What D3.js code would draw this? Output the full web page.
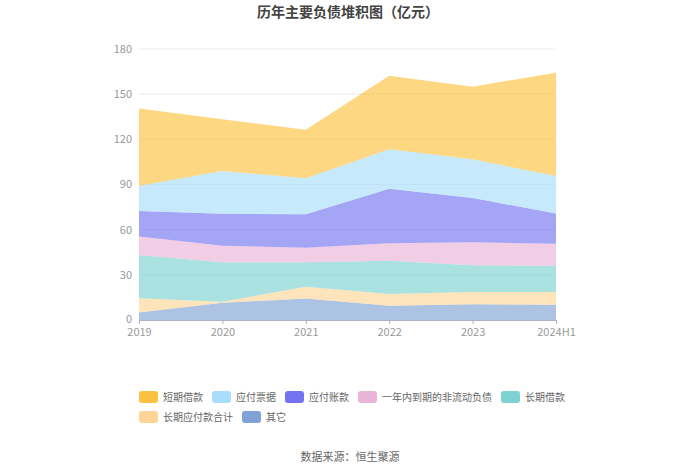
<!DOCTYPE html>
<html><head><meta charset="utf-8">
<script src="https://cdn.jsdelivr.net/npm/d3@7"></script>
<style>body{margin:0;background:#fff;}svg{display:block;font-family:"Noto Sans CJK SC","Noto Sans",sans-serif;}</style>
</head><body><svg id="c" width="700" height="474"></svg>
<script>
const categories = ["2019","2020","2021","2022","2023","2024H1"];
const seriesNames = ["短期借款","应付票据","应付账款","一年内到期的非流动负债","长期借款","长期应付款合计","其它"];
const shortLoans   = [51.2, 34.3, 32.3, 48.9, 48.3, 68.7];
const notesPayable = [16.8, 28.4, 23.9, 26.2, 25.7, 24.8];
const accountsPay  = [17.0, 21.2, 22.2, 36.3, 29.4, 20.1];
const currentNonC  = [12.2, 11.1, 9.7, 11.5, 15.3, 14.6];
const longLoans    = [28.8, 26.1, 16.2, 22.1, 17.7, 17.5];
const longPayables = [9.5, 0.7, 7.9, 7.8, 8.2, 8.4];
const others       = [4.9, 11.5, 14.2, 9.5, 10.4, 10.2];
const yTicks = [0,30,60,90,120,150,180];
const colors = ["#fcc13e","#a8defa","#7474f0","#eab4d8","#7dd3d3","#fed597","#7fa3d6"];

const seriesValues = [shortLoans, notesPayable, accountsPay, currentNonC, longLoans, longPayables, others];
const table = categories.map((c,i)=>{const o={cat:c};seriesNames.forEach((n,k)=>o[n]=seriesValues[k][i]);return o;});
const stackOrder = seriesNames.slice().reverse();
const stacked = d3.stack().keys(stackOrder)(table);

const svg = d3.select("#c");
const x = d3.scalePoint().domain(categories).range([139,556]);
const y = d3.scaleLinear().domain([0,180]).range([320,49]);

svg.append("g").selectAll("line").data(yTicks.filter(t=>t>0)).join("line")
  .attr("x1",139).attr("x2",556).attr("y1",d=>y(d)).attr("y2",d=>y(d))
  .attr("stroke","#e8eaf0").attr("stroke-width",1);

const area = d3.area().x(d=>x(d.data.cat)).y0(d=>y(d[0])).y1(d=>y(d[1]));
svg.append("g").selectAll("path").data(stacked).join("path")
  .attr("d",area)
  .attr("fill",d=>colors[seriesNames.indexOf(d.key)])
  .attr("fill-opacity",0.65);

svg.append("g").selectAll("text").data(yTicks).join("text")
  .attr("x",132).attr("y",d=>y(d)).attr("dy",d=>d===0?"0.25em":"0.35em").attr("text-anchor","end")
  .attr("font-size",11).attr("fill","#999").text(d=>d);

const xa = svg.append("g").attr("transform","translate(0,320)")
  .call(d3.axisBottom(x).tickSize(4).tickPadding(4));
xa.select(".domain").attr("stroke","#a9b0c2");
xa.selectAll(".tick line").attr("stroke","#a9b0c2");
xa.selectAll(".tick text").attr("fill","#999").attr("font-size",11)
  .attr("font-family",'"Noto Sans CJK SC","Noto Sans",sans-serif');

svg.append("text").attr("x",348).attr("y",17).attr("text-anchor","middle")
  .attr("font-size",14).attr("font-weight","bold").attr("fill","#444")
  .text("历年主要负债堆积图（亿元）");

const rows = [[0,1,2,3,4],[5,6]];
rows.forEach((r,ri)=>{
  let cx = 139;
  const cy = 397 + ri*20;
  r.forEach(k=>{
    svg.append("rect").attr("x",cx).attr("y",cy-6).attr("width",19).attr("height",12)
      .attr("rx",3).attr("fill",colors[k]);
    const t = svg.append("text").attr("x",cx+24).attr("y",cy).attr("dy","0.35em")
      .attr("font-size",10).attr("fill","#666").text(seriesNames[k]);
    cx += 24 + t.node().getComputedTextLength() + 9;
  });
});

svg.append("text").attr("x",350).attr("y",461).attr("text-anchor","middle")
  .attr("font-size",11).attr("fill","#666").text("数据来源：恒生聚源");
</script></body></html>
